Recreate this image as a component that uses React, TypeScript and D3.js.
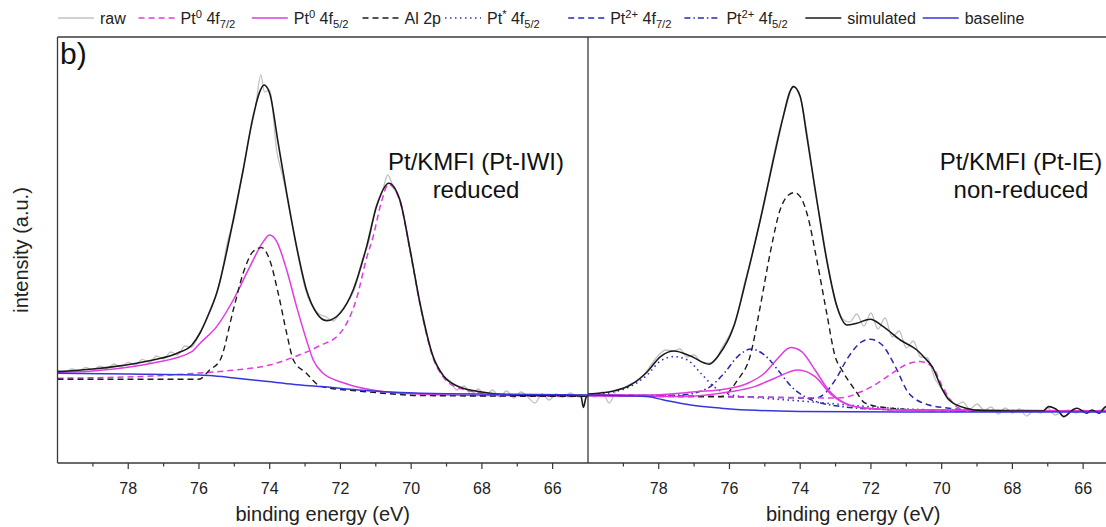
import React from "react";
import * as d3 from "d3";

type Pt = [number, number];

// binding energy (eV) -> intensity (a.u.)
const energyDomain: [number, number] = [80, 65];
const intensityDomain: [number, number] = [0, 213];
const majorTicks = [78, 76, 74, 72, 70, 68, 66];
const minorTicks = [79, 77, 75, 73, 71, 69, 67];

// ---- panel 1: Pt/KMFI (Pt-IWI) reduced ----
const rawReduced: Pt[] = [
  [80, 46.5], [79.8, 45.2], [79.6, 47], [79.4, 46], [79.2, 47.8], [79, 46.5], [78.8, 48.4], [78.6, 47.2],
  [78.4, 49.5], [78.2, 48], [78, 50.3], [77.8, 49], [77.6, 51.8], [77.4, 50.2], [77.2, 53.5], [77, 52],
  [76.8, 55.5], [76.6, 54], [76.4, 58.5], [76.2, 58], [76, 64.5], [75.8, 71], [75.6, 80], [75.4, 90.5],
  [75.2, 110], [75, 122.5], [74.8, 142], [74.6, 161.5], [74.4, 178], [74.25, 194], [74.15, 185.5], [74, 186.5],
  [73.8, 156], [73.6, 141], [73.4, 122.5], [73.2, 104], [73, 87.5], [72.8, 78.5], [72.6, 74.5], [72.4, 73],
  [72.2, 71], [72, 75.5], [71.8, 80.5], [71.6, 87], [71.4, 100.5], [71.2, 110.5], [71, 128], [70.8, 137],
  [70.66, 144], [70.5, 137.5], [70.3, 131], [70.1, 113.5], [69.9, 94], [69.7, 74.5], [69.5, 60], [69.3, 49.5],
  [69.1, 43.5], [68.9, 41], [68.7, 36.5], [68.5, 38.5], [68.3, 34], [68.1, 37], [67.9, 33.5], [67.7, 36.5],
  [67.5, 33], [67.3, 36], [67.1, 32.5], [66.9, 35.5], [66.7, 33], [66.5, 30], [66.3, 34.5], [66.1, 31.5],
  [65.9, 34.5], [65.7, 33], [65.5, 35], [65.3, 33.5], [65.1, 34], [65, 33.5],
];
const pt0_72Reduced: Pt[] = [
  [80, 42.4], [77.3, 43.5], [76, 45], [75.14, 46.2], [74, 49], [73.24, 53.5], [72.6, 58.5], [72.01, 64.9],
  [71.54, 82.5], [71.26, 102.5], [71.07, 113.5], [70.85, 130], [70.64, 139.3], [70.32, 131], [70.03, 106],
  [69.75, 79.3], [69.38, 52.5], [69.07, 42.5], [68.65, 37.5], [67.56, 34.3], [66, 33.3], [65, 33.2],
];
const pt0_52Reduced: Pt[] = [
  [80, 45.3], [79, 46], [78.4, 47], [77.3, 50], [76.2, 55.7], [75.97, 59.9], [75.5, 68.2], [75.03, 81.5],
  [74.56, 98.2], [74.18, 110.7], [74, 114], [73.8, 110.7], [73.52, 96.5], [73.24, 78.2], [72.96, 61.5],
  [72.77, 51.5], [72.5, 45], [71.9, 40], [70.8, 35.7], [69.7, 34.4], [68, 33.8], [65, 33.7],
];
const al2pReduced: Pt[] = [
  [80, 41.9], [76, 41.9], [75.7, 46.5], [75.4, 51.5], [75.03, 76.5], [74.75, 94.9], [74.47, 105.7],
  [74.23, 107.7], [74, 101.5], [73.76, 84.9], [73.52, 64.9], [73.33, 51.5], [72.97, 45], [72.54, 38.2],
  [71.5, 36], [70.8, 34.9], [69.7, 33.7], [65, 33.3],
];
const simReduced: Pt[] = [
  [80, 45.7], [79, 47], [78.4, 48.2], [77.3, 51.5], [76.6, 55], [76.2, 59], [75.97, 65], [75.75, 73.5],
  [75.5, 84.9], [75.03, 121.5], [74.75, 146.5], [74.47, 173.2], [74.28, 185.7], [74.16, 189], [74, 184.9],
  [73.76, 159.9], [73.52, 134.9], [73.24, 108.2], [72.96, 86.5], [72.67, 74.9], [72.39, 71.2], [72.01, 74.9],
  [71.64, 86.5], [71.26, 108.2], [70.98, 128.2], [70.63, 139.9], [70.32, 131.5], [70.03, 106.5], [69.75, 79.9],
  [69.38, 53.2], [69.07, 43.2], [68.65, 38.2], [68, 35.5], [67.56, 34.5], [66.5, 33.8], [65.4, 33.7],
  [65.2, 33.5], [65.13, 27.8], [65.05, 33], [65, 33.5],
];
const baselineReduced: Pt[] = [
  [80, 44.9], [78, 44.5], [76, 44], [75.7, 43.7], [75, 42.5], [74.05, 40.7], [73.3, 39.3], [72.54, 38.2],
  [71.5, 36.5], [70.3, 35.2], [69, 34.6], [67.56, 34.4], [65, 34],
];

// ---- panel 2: Pt/KMFI (Pt-IE) non-reduced ----
const rawNonReduced: Pt[] = [
  [80, 34.5], [79.8, 33], [79.6, 35.5], [79.4, 30], [79.2, 36], [79, 37.5], [78.8, 39.5], [78.6, 41],
  [78.4, 44.5], [78.2, 49.5], [78, 54], [77.8, 56.5], [77.6, 56], [77.4, 57], [77.2, 53], [77, 54],
  [76.8, 50.5], [76.6, 50], [76.4, 51.5], [76.2, 58], [76, 64], [75.8, 72.5], [75.6, 88], [75.4, 101],
  [75.2, 116], [75, 131], [74.8, 149.5], [74.6, 165.5], [74.4, 178], [74.2, 188.5], [74, 183], [73.8, 164],
  [73.6, 138], [73.4, 118.5], [73.2, 97], [73, 80.5], [72.8, 72], [72.6, 70.5], [72.4, 74.5], [72.2, 68.5],
  [72, 75], [71.8, 67], [71.6, 72.5], [71.4, 63], [71.2, 66], [71, 57.5], [70.8, 61], [70.6, 53],
  [70.4, 52.5], [70.2, 42.5], [70, 37], [69.8, 32.5], [69.6, 29], [69.4, 30.5], [69.2, 27], [69, 29.5],
  [68.8, 26.5], [68.6, 28], [68.4, 24.5], [68.2, 27.5], [68, 25], [67.8, 27], [67.6, 23.5], [67.4, 26],
  [67.2, 25], [67, 27.5], [66.8, 24], [66.6, 25.5], [66.4, 26.5], [66.2, 25], [66, 26.5], [65.8, 25.5],
  [65.6, 26], [65.4, 27], [65.2, 25.5], [65, 26],
];
const pt0_72NonReduced: Pt[] = [
  [80, 34], [77, 33.2], [74, 32.7], [73, 32.5], [72.64, 33.2], [72.3, 35.5], [71.97, 38.2], [71.4, 44.9],
  [71.03, 49], [70.64, 50.7], [70.27, 48.2], [69.98, 38.2], [69.75, 31.5], [69.5, 27.4], [69, 26.2], [65, 26],
];
const pt0_52aNonReduced: Pt[] = [
  [80, 34], [78.33, 34], [76.9, 35.7], [76.15, 36.9], [75.48, 39.9], [75.01, 44.9], [74.63, 52.4],
  [74.27, 57.7], [73.96, 55.7], [73.58, 46.5], [73.2, 36.5], [72.73, 29.9], [72.16, 27.4], [71, 26.5], [65, 26],
];
const pt0_52bNonReduced: Pt[] = [
  [80, 33.5], [77.38, 33.2], [75.95, 35.7], [75.29, 38.2], [74.72, 42.4], [74.06, 46.5], [73.58, 43.2],
  [73.11, 34], [72.63, 29], [72.07, 27.4], [71, 26.5], [65, 26],
];
const al2pNonReduced: Pt[] = [
  [80, 34], [77.4, 33.2], [76.24, 33.2], [75.77, 41.5], [75.42, 53.2], [75.13, 78.2], [74.85, 104.9],
  [74.57, 126.5], [74.33, 134], [74.17, 135.2], [74, 133.2], [73.81, 124.9], [73.53, 101.5], [73.25, 74.9],
  [73.01, 53.2], [72.82, 46.5], [72.45, 36.5], [72.16, 29.9], [71.5, 27.5], [70, 26.2], [65, 26],
];
const ptStar52NonReduced: Pt[] = [
  [80, 34], [79.28, 35.5], [78.81, 38.2], [78.33, 44], [77.95, 51], [77.57, 53.2], [77.19, 51.5],
  [76.81, 44.9], [76.44, 38.2], [75.95, 34], [75.01, 32.4], [73.78, 30.7], [72.63, 29], [71.5, 27.5],
  [70, 26.5], [65, 26],
];
const pt2_72NonReduced: Pt[] = [
  [80, 34], [76, 33.2], [74.5, 32.7], [73.58, 32.4], [73.3, 34.9], [73.01, 41.5], [72.63, 53.2],
  [72.25, 60.7], [72.02, 61.9], [71.68, 59], [71.31, 48.2], [70.93, 34.9], [70.36, 29], [69.79, 27.4],
  [69, 26.2], [65, 26],
];
const pt2_52NonReduced: Pt[] = [
  [80, 34], [78, 33.8], [77.38, 34], [76.62, 37.4], [76.15, 44.9], [75.77, 53.2], [75.39, 57], [75.01, 54],
  [74.63, 46.5], [74.25, 38.2], [73.87, 33.2], [73.39, 29.9], [72.82, 28.2], [72, 27], [70, 26.2], [65, 26],
];
const simNonReduced: Pt[] = [
  [80, 34.5], [79.28, 36], [78.8, 39], [78.33, 45.5], [77.95, 53.2], [77.57, 56], [77.1, 53.5], [76.58, 49.4],
  [76.3, 54], [75.88, 68.2], [75.51, 93.2], [75.13, 121.5], [74.76, 151.5], [74.48, 173.2], [74.29, 185.7],
  [74.19, 188.2], [74, 183.2], [73.81, 163.2], [73.53, 131.5], [73.25, 101.5], [72.96, 78.2], [72.68, 69],
  [72.4, 69.9], [72.02, 71.9], [71.65, 68.2], [71.17, 61.5], [70.7, 56.5], [70.47, 52.4], [70.27, 48.2],
  [70, 37.5], [69.79, 31.5], [69.31, 27.4], [68.84, 26.2], [68, 26], [67.13, 26], [66.98, 28.2], [66.7, 26],
  [66.55, 23.2], [66.3, 26.5], [66.17, 27.4], [65.9, 24.9], [65.75, 26.5], [65.55, 24.9], [65.35, 28.2], [65, 26.5],
];
const baselineNonReduced: Pt[] = [
  [80, 34], [78.33, 33.2], [77.86, 31.5], [77.1, 29], [76.24, 27.4], [75.48, 26.5], [74, 25.8], [70, 25.5], [65, 25.5],
];

// legend names (parts: text, "sup" or "sub")
type Part = [string, "" | "sup" | "sub"];
const legendKeys = ["raw", "pt0_72", "pt0_52", "al2p", "ptStar", "pt2_72", "pt2_52", "sim", "baseline"];
const legendNames: Part[][] = [
  [["raw", ""]],
  [["Pt", ""], ["0", "sup"], [" 4f", ""], ["7/2", "sub"]],
  [["Pt", ""], ["0", "sup"], [" 4f", ""], ["5/2", "sub"]],
  [["Al 2p", ""]],
  [["Pt", ""], ["*", "sup"], [" 4f", ""], ["5/2", "sub"]],
  [["Pt", ""], ["2+", "sup"], [" 4f", ""], ["7/2", "sub"]],
  [["Pt", ""], ["2+", "sup"], [" 4f", ""], ["5/2", "sub"]],
  [["simulated", ""]],
  [["baseline", ""]],
];

const styles: Record<string, { stroke: string; width: number; dash?: string }> = {
  raw: { stroke: "#c2c2c2", width: 1.3 },
  pt0_72: { stroke: "#e03ce0", width: 1.5, dash: "6,4" },
  pt0_52: { stroke: "#e03ce0", width: 1.5 },
  al2p: { stroke: "#1c1c1c", width: 1.4, dash: "6,4" },
  ptStar: { stroke: "#3434c8", width: 1.6, dash: "1.5,3.5" },
  pt2_72: { stroke: "#2828b0", width: 1.5, dash: "6,4" },
  pt2_52: { stroke: "#2828b0", width: 1.5, dash: "6,3,1.5,3" },
  sim: { stroke: "#1a1a1a", width: 1.6 },
  baseline: { stroke: "#3636dc", width: 1.5 },
};

const W = 1106;
const H = 527;
const top = 37;
const bottom = 463;
const font = "'Liberation Sans', Arial, sans-serif";
const legendX = [58, 138.6, 251.8, 362.5, 445, 568.2, 684.4, 805.3, 922.7];

const panels = [
  {
    id: "p1", x0: 57.5, x1: 588, labelX: 476, label: ["Pt/KMFI (Pt-IWI)", "reduced"],
    curves: [
      ["raw", rawReduced], ["pt0_72", pt0_72Reduced], ["pt0_52", pt0_52Reduced], ["al2p", al2pReduced],
      ["sim", simReduced], ["baseline", baselineReduced],
    ] as [string, Pt[]][],
  },
  {
    id: "p2", x0: 588, x1: 1118.5, labelX: 1021, label: ["Pt/KMFI (Pt-IE)", "non-reduced"],
    curves: [
      ["raw", rawNonReduced], ["ptStar", ptStar52NonReduced], ["pt2_52", pt2_52NonReduced],
      ["pt2_72", pt2_72NonReduced], ["pt0_72", pt0_72NonReduced], ["al2p", al2pNonReduced],
      ["pt0_52", pt0_52aNonReduced], ["pt0_52", pt0_52bNonReduced], ["sim", simNonReduced],
      ["baseline", baselineNonReduced],
    ] as [string, Pt[]][],
  },
];

function RichText({ parts, x, y, size }: { parts: Part[]; x: number; y: number; size: number }) {
  let shift = 0;
  return (
    <text x={x} y={y} fontSize={size} fill="#222">
      {parts.map(([t, kind], i) => {
        const target = kind === "sup" ? -6 : kind === "sub" ? 4 : 0;
        const dy = target - shift;
        shift = target;
        return (
          <tspan key={i} dy={dy} fontSize={kind ? size * 0.7 : size}>
            {t}
          </tspan>
        );
      })}
    </text>
  );
}

export default function App() {
  const y = d3.scaleLinear().domain(intensityDomain).range([bottom, top]);

  return (
    <svg
      width={W}
      height={H}
      style={{ position: "absolute", left: 0, top: 0, background: "#fff", fontFamily: font }}
    >
      {/* legend */}
      {legendKeys.map((k, i) => {
        const s = styles[k];
        const lx = legendX[i];
        return (
          <g key={k}>
            <line x1={lx} x2={lx + 36} y1={18} y2={18} stroke={s.stroke} strokeWidth={s.width} strokeDasharray={s.dash} />
            <RichText parts={legendNames[i]} x={lx + 42} y={23.5} size={16} />
          </g>
        );
      })}

      {panels.map((p) => {
        const x = d3.scaleLinear().domain(energyDomain).range([p.x0, p.x1]);
        const line = d3
          .line<Pt>()
          .x((d) => x(d[0]))
          .y((d) => y(d[1]))
          .curve(d3.curveMonotoneX);
        return (
          <g key={p.id}>
            <clipPath id={p.id}>
              <rect x={p.x0} y={top} width={p.x1 - p.x0} height={bottom - top} />
            </clipPath>
            <g clipPath={`url(#${p.id})`}>
              {p.curves.map(([k, data], i) => {
                const s = styles[k];
                return (
                  <path
                    key={i}
                    d={line(data) || ""}
                    fill="none"
                    stroke={s.stroke}
                    strokeWidth={s.width}
                    strokeDasharray={s.dash}
                    strokeLinejoin="round"
                  />
                );
              })}
            </g>
            {majorTicks.map((t) => (
              <g key={t}>
                <line x1={x(t)} x2={x(t)} y1={bottom} y2={bottom + 6} stroke="#333" strokeWidth={1.2} />
                <text x={x(t)} y={494} textAnchor="middle" fontSize={16} fill="#222">
                  {t}
                </text>
              </g>
            ))}
            {minorTicks.map((t) => (
              <line key={t} x1={x(t)} x2={x(t)} y1={bottom} y2={bottom + 3.5} stroke="#333" strokeWidth={1.2} />
            ))}
            <text x={(p.x0 + p.x1) / 2} y={521} textAnchor="middle" fontSize={20} fill="#222">
              binding energy (eV)
            </text>
            <text x={p.labelX} y={170} textAnchor="middle" fontSize={24} fill="#111">
              {p.label[0]}
            </text>
            <text x={p.labelX} y={198} textAnchor="middle" fontSize={24} fill="#111">
              {p.label[1]}
            </text>
          </g>
        );
      })}

      {/* frame */}
      <g stroke="#3a3a3a" strokeWidth={1.3} fill="none">
        <line x1={57.5} x2={57.5} y1={top} y2={bottom} />
        <line x1={57.5} x2={W} y1={top} y2={top} />
        <line x1={57.5} x2={W} y1={bottom} y2={bottom} />
        <line x1={588} x2={588} y1={top} y2={bottom} />
      </g>

      <text x={60} y={64} fontSize={30} fill="#111">
        b)
      </text>
      <text transform="translate(28,250) rotate(-90)" textAnchor="middle" fontSize={20} fill="#222">
        intensity (a.u.)
      </text>
    </svg>
  );
}
